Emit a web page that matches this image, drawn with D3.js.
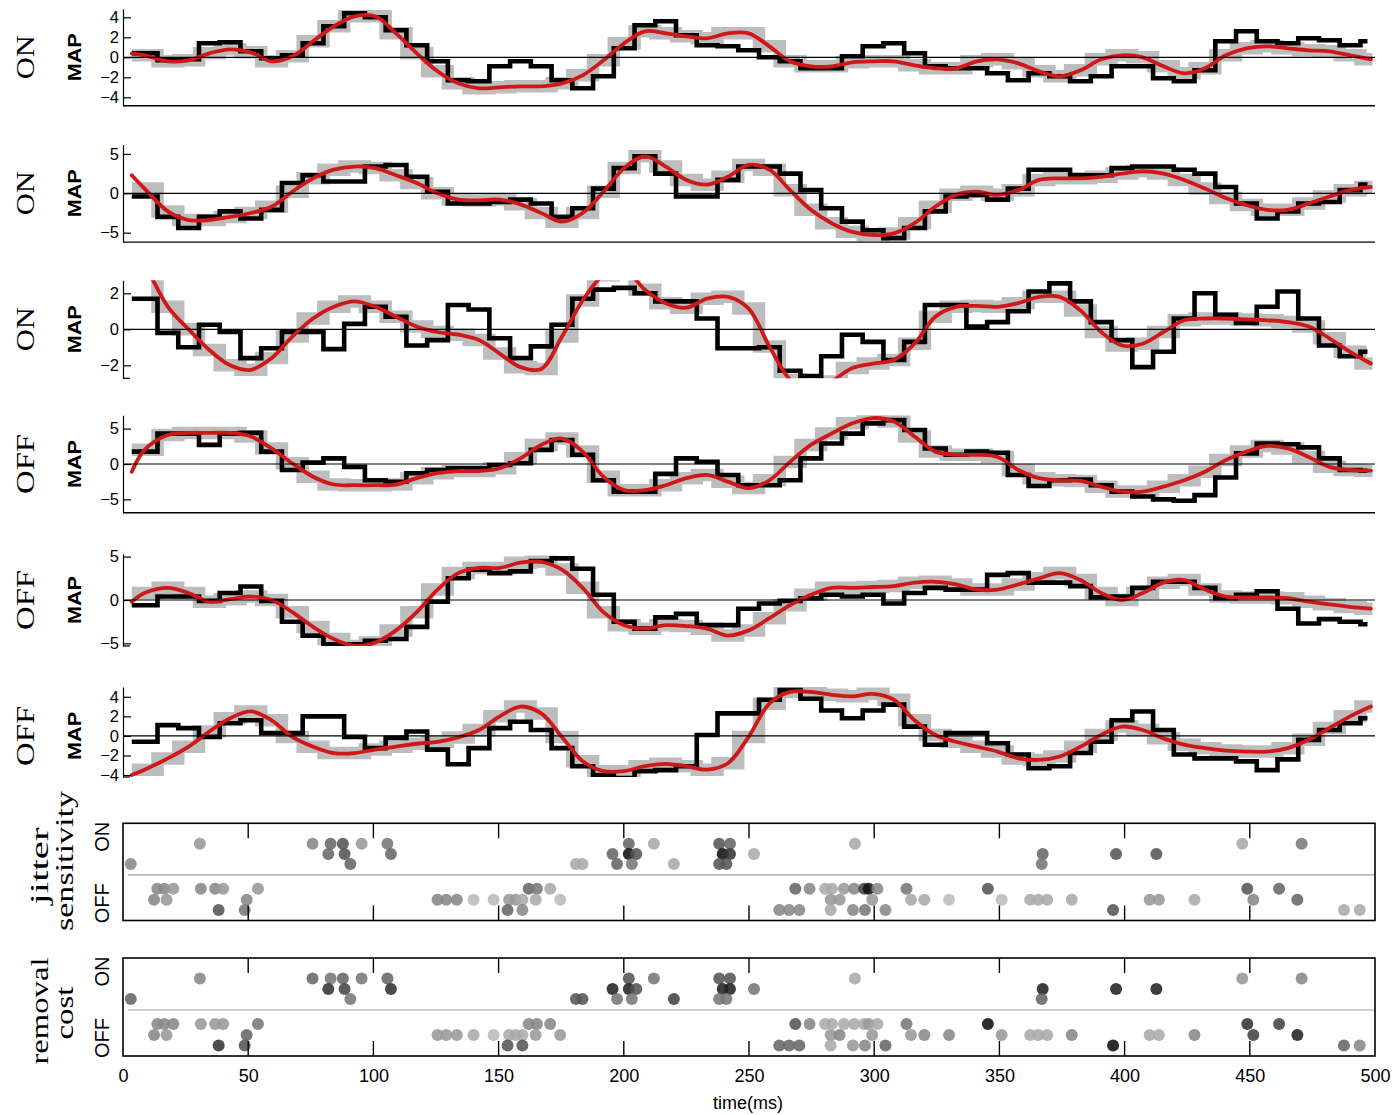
<!DOCTYPE html>
<html><head><meta charset="utf-8">
<script src="https://cdn.jsdelivr.net/npm/d3@7"></script>
<style>body{margin:0;background:#fff}svg{display:block}</style>
</head><body>
<svg id="c" width="1395" height="1115"></svg>
<script>
// ---------------- data ----------------
const cellTypes = ["ON","ON","ON","OFF","OFF","OFF"];
const yTickValues = [[-4,-2,0,2,4],[-5,0,5],[-2,0,2],[-5,0,5],[-5,0,5],[-4,-2,0,2,4]];
const yLimits = [[-4.85,4.85],[-6.2,6.2],[-2.72,2.72],[-6.9,6.9],[-5.3,5.3],[-4.2,5.0]];
const timeTicks = [0,50,100,150,200,250,300,350,400,450,500];
// bin start times (ms) of the stepwise stimulus, and series end
const binStartMs = d3.range(60).map(j => j === 0 ? 3.5 : 5.5 + 8.283 * j);
const seriesEndMs = 497;
// sample times of smooth MAP estimate
const smoothTimeMs = [3.5].concat(d3.range(60).map(j => j === 0 ? 8.6 : 9.64 + 8.283 * j));

const stim1 = [0.4,-0.3,-0.2,1.4,1.5,0.6,-0.1,0.2,1.4,3.1,4.4,4.0,2.7,1.2,-0.4,-2.3,-2.4,-0.9,-0.4,-0.9,-2.3,-3.1,-1.9,0.9,3.2,3.6,2.2,
  1.2,1.1,0.7,0,-0.4,-1.1,-1.1,0.1,1.1,1.4,0.4,-0.9,-1.1,-1.1,-1.6,-2.3,-1.6,-1.9,-2.4,-1.9,-0.9,-0.9,-2.1,-2.4,-1.3,1.6,2.6,1.6,1.4,1.9,1.7,1.2,1.6];
const stim2 = [-0.4,-3.0,-4.4,-3.0,-2.3,-3.2,-2.1,1.3,2.3,1.5,1.5,3.4,3.6,2.1,0.2,-1.3,-1.3,-1.1,-0.8,-1.3,-3.0,-1.9,0.6,3.2,4.7,2.5,-0.4,
  -0.4,1.7,3.4,3.4,2.5,0.4,-1.9,-3.6,-4.7,-5.7,-4.4,-2.3,-0.4,-0.2,-0.8,0.6,3.0,3.0,2.3,2.3,3.2,3.4,3.4,3.0,2.5,0.8,-1.3,-3.2,-2.3,-1.3,-1.1,0.4,1.1];
const stim3 = [1.7,-0.2,-1.0,0.25,-0.15,-1.6,-1.05,-0.15,-0.15,-1.1,0.3,1.25,0.7,-0.9,-0.6,1.35,1.1,-0.5,-1.6,-0.95,0.25,1.7,2.2,2.3,2.0,1.55,1.55,
  0.6,-1.05,-1.05,-1.0,-2.3,-2.6,-1.5,-0.3,-0.7,-1.7,-0.7,1.35,1.35,0.15,0.4,1.0,2.1,2.55,1.55,0.4,-0.6,-2.1,-1.25,0.6,2.0,0.8,0.35,1.25,2.1,0.6,-0.9,-1.5,-1.25];
const stim4 = [1.75,4.3,4.3,2.7,4.3,4.4,1.75,-0.85,0.2,0.8,-0.4,-2.3,-2.5,-1.3,-0.85,-0.6,-0.6,-0.15,0.1,2.0,3.4,1.3,-2.3,-3.9,-3.9,-1.4,0.8,
  0.3,-1.55,-3.0,-3.0,-2.3,0.8,2.9,4.3,5.75,6.2,4.8,2.2,1.3,1.75,1.6,-1.55,-3.1,-2.3,-2.2,-3.0,-3.9,-4.6,-5.0,-5.2,-4.4,-1.9,1.5,2.9,2.8,2.35,0.8,-0.85,-0.95];
const stim5 = [-0.6,0.4,0.4,-0.1,0.8,1.55,-0.1,-2.5,-4.1,-5.1,-5.1,-4.7,-4.5,-3.1,-0.2,2.5,3.5,3.1,3.3,4.5,4.8,3.6,0.6,-2.5,-3.3,-2.0,-1.6,
  -2.9,-2.9,-1.0,-0.4,-0.1,0.2,0.6,0.4,0.6,-0.4,0.8,1.4,1.2,1.2,2.9,3.1,2.0,2.0,1.6,0.3,0.4,1.4,2.1,2.1,1.4,0.2,0.6,1.0,-1.0,-2.7,-2.2,-2.5,-2.8];
const stim6 = [-0.6,1.1,0.8,-0.1,1.3,1.6,0.3,0.3,2.0,2.0,-0.1,-1.25,-0.2,0.45,-1.4,-2.9,-1.25,0.8,1.45,0.6,-1.25,-3.1,-4.0,-4.3,-3.6,-3.5,-3.1,
  0.1,2.3,2.3,3.7,4.7,3.8,2.6,1.8,2.6,3.2,0.95,-0.9,0.3,0.3,-0.75,-1.9,-3.3,-3.1,-1.75,-0.6,1.6,2.5,0.6,-1.9,-2.3,-2.3,-2.6,-3.5,-2.4,-0.4,0.6,1.3,1.8];

const map1 = [0.4, 0.2,-0.4,-0.3,0.4,0.8,0.5,-0.4,0.1,1.6,3.1,4.1,4.1,2.4,0.4,-1.4,-2.6,-3.1,-3.0,-2.9,-2.9,-2.6,-1.8,-0.3,1.4,2.6,2.4,2.1,
  1.9,2.4,2.4,1.1,-0.4,-0.9,-0.9,-0.5,-0.4,-0.4,-0.8,-1.1,-1.1,-0.4,-0.2,-0.6,-1.4,-1.9,-1.3,-0.2,0.2,0,-0.9,-1.6,-1.1,0.2,0.9,1.1,0.9,0.7,0.6,0.2,-0.2];
const map2 = [2.3, 0.6,-2.3,-3.4,-3.4,-3.0,-2.5,-1.7,0.2,1.9,3.0,3.4,3.2,2.3,1.3,0,-0.8,-0.9,-0.8,-1.4,-2.5,-3.6,-2.5,0.2,3.2,4.7,3.4,1.7,
  1.1,2.1,3.6,3.0,0.4,-2.1,-3.8,-4.9,-5.3,-5.1,-3.8,-1.7,-0.2,0.2,-0.2,0.4,1.7,1.9,1.9,2.1,2.5,2.8,2.5,1.7,0.6,-0.6,-1.5,-2.1,-2.1,-1.3,-0.4,0.4,0.8];
const map3 = [4.6, 3.6,1.25,0,-1.15,-2.0,-2.25,-1.6,-0.4,0.6,1.25,1.55,1.25,0.7,0.15,-0.15,-0.3,-0.6,-1.35,-2.1,-2.2,-0.4,1.6,3.0,3.3,2.2,1.45,1.2,
  1.7,1.8,1.15,-0.95,-2.8,-3.5,-2.9,-2.15,-1.9,-1.7,-0.8,0.7,1.25,1.3,1.25,1.45,1.8,1.8,1.05,-0.15,-0.9,-0.8,-0.15,0.5,0.6,0.6,0.55,0.5,0.4,0.15,-0.5,-1.25,-1.9];
const map4 = [-1.1, 2.0,4.1,4.4,4.4,4.4,3.9,2.2,0.1,-1.8,-2.9,-3.0,-3.0,-2.9,-2.0,-1.3,-1.0,-1.0,-0.6,0.8,2.7,3.6,1.75,-1.8,-3.7,-3.7,-3.0,-2.0,
  -1.55,-2.5,-3.4,-2.3,0.3,2.7,4.3,5.75,6.5,6.0,3.9,1.75,1.3,1.3,1.0,-0.85,-2.0,-2.3,-2.4,-3.2,-3.9,-3.9,-3.2,-2.3,-1.1,0.55,1.75,2.55,2.2,1.0,-0.4,-0.85,-0.95];
const map5 = [-0.2, 0.8,1.4,0.8,-0.2,0.1,0.4,0,-1.4,-3.1,-4.5,-5.3,-4.9,-3.5,-1.4,1.2,3.1,3.7,3.7,4.3,4.4,3.5,1.4,-1.4,-2.9,-3.3,-2.9,-3.0,
  -3.3,-4.1,-3.5,-2.1,-0.6,0.6,1.4,1.4,1.5,1.6,2.0,2.1,1.8,1.2,1.2,1.8,2.5,3.1,2.3,0.8,0,0.8,2.0,2.3,1.2,0.4,0.3,0.3,0.2,-0.2,-0.5,-0.8,-1.0];
const map6 = [-4.0, -3.45,-2.3,-1.1,0.45,1.8,2.5,1.6,-0.1,-1.1,-1.75,-1.75,-1.4,-1.1,-0.8,-0.6,-0.15,0.6,2.0,3.0,2.3,-0.1,-2.6,-3.6,-3.6,-3.1,-2.85,-3.1,
  -3.45,-2.8,-0.1,3.3,4.5,4.5,4.2,4.05,4.3,3.7,1.6,0.1,-0.6,-1.1,-1.6,-2.3,-2.45,-2.1,-1.1,0.1,0.95,0.6,-0.25,-0.9,-1.25,-1.5,-1.6,-1.6,-1.25,-0.4,0.8,2.0,3.0];

const stimSeries = [stim1, stim2, stim3, stim4, stim5, stim6];
const mapSeries = [map1, map2, map3, map4, map5, map6];

// raster dots: rows 0-2 = ON cells, 3-5 = OFF cells
const dotTimesByRow = [
  [30.7,75.7,82.9,87.8,95.3,105.6,202,212,238.1,242.4,292.3,447,470.7],
  [82,88.5,107,195.5,202,205,239.5,242.4,252,367.3,396.6,412.7],
  [3.1,90.8,180.9,183.5,197.3,203.2,220,238.1,241,366.9],
  [13.7,16.5,20.1,31.1,36.8,40,53.9,162,165.3,170.6,268.5,274.2,280.4,283.1,287.9,292,296,297.8,301.3,312.9,345.4,449,461.7],
  [12.4,17.4,49.4,125.6,129.1,133.3,140,148,154.2,156.8,159.5,164.8,174.6,282.6,286.2,299.2,314.7,320,329.9,350.9,362.3,365.5,369.1,378.9,410,413.7,427.9,451.4,469],
  [38.2,48.6,153.6,159.5,262.1,266,270.1,282.6,291.5,296.3,304.5,395.4,487.6,493.9]
];
const jitterGrayByRow = [
  [153,136,102,85,153,119,102,170,85,102,170,170,119],
  [102,85,102,102,17,85,17,51,170,102,85,85],
  [136,102,170,170,102,119,170,85,85,119],
  [136,136,153,136,136,153,153,102,119,170,102,136,170,170,153,136,68,17,136,119,85,85,102],
  [136,153,136,136,136,136,187,187,153,153,170,170,187,153,153,153,170,170,187,187,170,170,170,170,153,153,170,136,102],
  [85,119,102,136,136,136,136,170,136,119,136,85,170,170]
];
const removalGrayByRow = [
  [136,102,119,102,119,102,85,119,85,85,170,153,136],
  [51,68,51,34,34,85,34,34,119,34,34,34],
  [102,119,85,85,119,119,68,119,119,102],
  [136,136,136,153,153,153,119,136,136,136,85,136,170,170,170,170,170,153,170,119,17,51,68],
  [136,153,102,153,153,153,170,187,170,170,170,153,153,153,136,153,153,136,136,153,170,170,170,136,170,170,136,68,34],
  [51,85,85,85,102,102,102,170,153,136,102,17,102,136]
];
const rasterLabels = [["jitter","sensitivity"],["removal","cost"]];
const rasterShades = [jitterGrayByRow, removalGrayByRow];

// ---------------- drawing ----------------
const svg = d3.select("#c");
const X0 = 123, X1 = 1375;
const x = d3.scaleLinear().domain([0, 500]).range([X0, X1]);
const panelBox = [[8.8,105.8],[144.5,242.1],[280.3,378.3],[415.2,512.8],[554,646],[687,777]];
const hasBottomLine = [true,true,false,true,false,false];
const sans = "'Liberation Sans', Arial, Helvetica, sans-serif";
const serif = "'Liberation Serif', 'Times New Roman', serif";
const defs = svg.append("defs");

stimSeries.forEach((stim, i) => {
  const [top, bot] = panelBox[i];
  const y = d3.scaleLinear().domain(yLimits[i]).range([bot, top]);
  const g = svg.append("g");
  defs.append("clipPath").attr("id", "clip" + i)
    .append("rect").attr("x", X0).attr("y", top).attr("width", X1 - X0 + 2).attr("height", bot - top);
  const plot = g.append("g").attr("clip-path", `url(#clip${i})`);
  const m = mapSeries[i];

  // gray band: smooth estimate stepped on the stimulus bins
  const grayPts = binStartMs.map((t, j) => [t, m[j + 1]]).concat([[seriesEndMs + 2, m[60]]]);
  plot.append("path")
    .attr("d", d3.line().x(d => x(d[0])).y(d => y(d[1])).curve(d3.curveStepAfter)(grayPts))
    .attr("fill", "none").attr("stroke", "#bdbdbd").attr("stroke-width", 12.5);

  // zero line
  g.append("line").attr("x1", X0).attr("x2", X1).attr("y1", y(0)).attr("y2", y(0))
    .attr("stroke", "#000").attr("stroke-width", 1.2);

  // black stimulus steps
  const stepPts = binStartMs.map((t, j) => [t, stim[j]]).concat([[seriesEndMs, stim[59]]]);
  plot.append("path")
    .attr("d", d3.line().x(d => x(d[0])).y(d => y(d[1])).curve(d3.curveStepAfter)(stepPts))
    .attr("fill", "none").attr("stroke", "#000").attr("stroke-width", 4.6)
    .attr("stroke-linejoin", "miter");

  // red MAP curve
  const redPts = smoothTimeMs.map((t, j) => [t, m[j]]);
  plot.append("path")
    .attr("d", d3.line().x(d => x(d[0])).y(d => y(d[1])).curve(d3.curveCatmullRom.alpha(0.5))(redPts))
    .attr("fill", "none").attr("stroke", "#d01818").attr("stroke-width", 3.8)
    .attr("stroke-linecap", "round");

  // y axis
  const ax = g.append("g").attr("transform", `translate(${X0},0)`)
    .call(d3.axisLeft(y).tickValues(yTickValues[i]).tickFormat(d3.format("d"))
      .tickSizeInner(-8).tickSizeOuter(0).tickPadding(4));
  ax.select(".domain").attr("stroke-width", 1.2);
  ax.selectAll(".tick line").attr("stroke-width", 1.2);
  ax.selectAll("text").attr("font-family", sans).attr("font-size", 16.5).attr("fill", "#000");

  if (hasBottomLine[i]) {
    g.append("line").attr("x1", X0).attr("x2", X1).attr("y1", bot).attr("y2", bot)
      .attr("stroke", "#000").attr("stroke-width", 1.4);
  } else {
    g.append("line").attr("x1", X0).attr("x2", X0 + 7).attr("y1", bot).attr("y2", bot)
      .attr("stroke", "#000").attr("stroke-width", 1.2);
  }

  // labels
  const yc = y(0);
  g.append("text").text(cellTypes[i])
    .attr("transform", `translate(25,${yc}) rotate(-90)`)
    .attr("text-anchor", "middle").attr("dominant-baseline", "central")
    .attr("font-family", serif).attr("font-size", 25)
    .attr("textLength", cellTypes[i] === "ON" ? 44 : 60).attr("lengthAdjust", "spacingAndGlyphs");
  g.append("text").text("MAP")
    .attr("transform", `translate(74,${yc}) rotate(-90)`)
    .attr("text-anchor", "middle").attr("dominant-baseline", "central")
    .attr("font-family", sans).attr("font-weight", "bold").attr("font-size", 19)
    .attr("textLength", 48).attr("lengthAdjust", "spacingAndGlyphs");
});

// ---------------- raster panels ----------------
const rasterBox = [[823.3, 920.5], [958, 1056]];
const rowPos = [2.05, 3.1, 4.1, 6.6, 7.7, 8.75];
const sepPos = 5.2;
const labelTextLen = [[77, 140], [107, 53]];
const labelCenterY = [[866, 861], [1011, 1013]];

rasterBox.forEach(([top, bot], p) => {
  const g = svg.append("g");
  const ry = d3.scaleLinear().domain([0, 9.8]).range([top, bot]);
  // separator
  g.append("line").attr("x1", X0 + 5).attr("x2", X1).attr("y1", ry(sepPos)).attr("y2", ry(sepPos))
    .attr("stroke", "#a0a0a0").attr("stroke-width", 1.2);
  // dots
  dotTimesByRow.forEach((times, r) => {
    times.forEach((t, k) => {
      const gv = rasterShades[p][r][k];
      g.append("circle").attr("cx", x(t)).attr("cy", ry(rowPos[r])).attr("r", 6)
        .attr("fill", `rgb(${gv},${gv},${gv})`).attr("fill-opacity", 0.88);
    });
  });
  // box
  g.append("rect").attr("x", X0).attr("y", top).attr("width", X1 - X0).attr("height", bot - top)
    .attr("fill", "none").attr("stroke", "#000").attr("stroke-width", 1.6);
  // inward ticks
  timeTicks.filter(t => t > 0 && t < 500).forEach(t => {
    g.append("line").attr("x1", x(t)).attr("x2", x(t)).attr("y1", top).attr("y2", top + 15)
      .attr("stroke", "#000").attr("stroke-width", 1.4);
    g.append("line").attr("x1", x(t)).attr("x2", x(t)).attr("y1", bot).attr("y2", bot - 15)
      .attr("stroke", "#000").attr("stroke-width", 1.4);
  });
  // ON / OFF labels
  [["ON", top + 13.5], ["OFF", top + 80]].forEach(([lab, yy]) => {
    g.append("text").text(lab)
      .attr("transform", `translate(102,${yy}) rotate(-90)`)
      .attr("text-anchor", "middle").attr("dominant-baseline", "central")
      .attr("font-family", sans).attr("font-size", 20);
  });
  // serif two-line labels
  rasterLabels[p].forEach((lab, k) => {
    g.append("text").text(lab)
      .attr("transform", `translate(${k === 0 ? 39 : 64},${labelCenterY[p][k]}) rotate(-90)`)
      .attr("text-anchor", "middle").attr("dominant-baseline", "central")
      .attr("font-family", serif).attr("font-size", 25)
      .attr("textLength", labelTextLen[p][k]).attr("lengthAdjust", "spacingAndGlyphs");
  });
});

// bottom time axis labels
const xa = svg.append("g").attr("transform", `translate(0,${rasterBox[1][1]})`)
  .call(d3.axisBottom(x).tickValues(timeTicks).tickSize(0).tickPadding(13));
xa.select(".domain").remove();
xa.selectAll("text").attr("font-family", sans).attr("font-size", 18).attr("fill", "#000");
svg.append("text").text("time(ms)").attr("x", 748).attr("y", 1109)
  .attr("text-anchor", "middle").attr("font-family", sans).attr("font-size", 18);
</script>
</body></html>
